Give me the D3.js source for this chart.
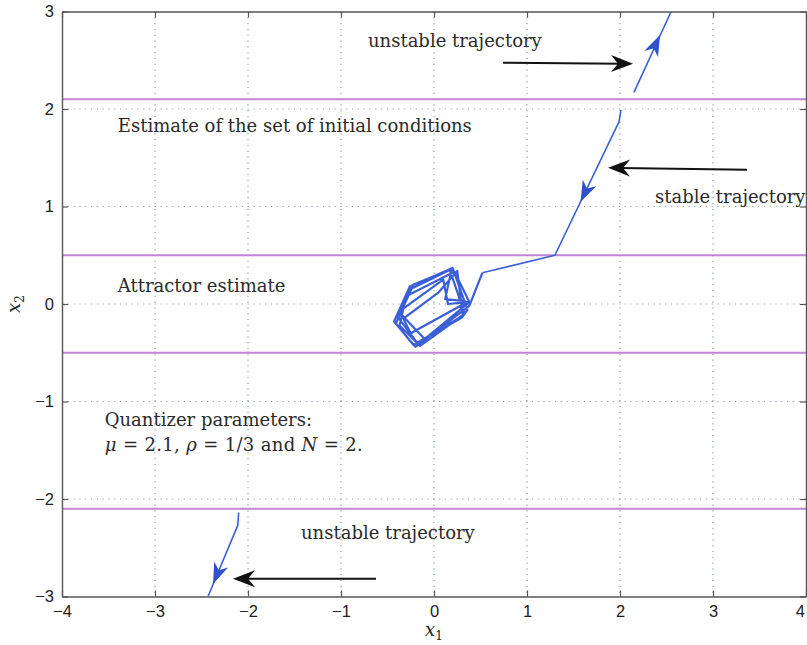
<!DOCTYPE html>
<html><head><meta charset="utf-8">
<script src="https://cdn.jsdelivr.net/npm/d3@7"></script>
<style>body{margin:0;background:#fff}</style>
</head><body><svg id="c" width="807" height="645"></svg>
<script>
// ---- data ----
const xTicks = [-4, -3, -2, -1, 0, 1, 2, 3, 4];
const yTicks = [-3, -2, -1, 0, 1, 2, 3];
const boundaryLevels = [2.1, 0.5, -0.5, -2.1];

const unstableUpX = [2.15, 2.55];
const unstableUpY = [2.17, 3.0];

// approach from the initial-condition set
const stableX = [2.01, 1.99, 1.30, 0.52];
const stableY = [1.99, 1.87, 0.50, 0.32];
// motion inside the attractor
const attractorX = [0.52, 0.38, -0.20, -0.43, -0.26, 0.20, 0.36, 0.30, -0.18, -0.40, -0.22, 0.17, 0.33, -0.15, -0.37, -0.30, 0.22, 0.38, -0.10, -0.38, 0.10, 0.15, 0.36, -0.25, -0.33, 0.05, 0.25, 0.31, -0.22, -0.41, -0.24, 0.19, 0.12, 0.34];
const attractorY = [0.32, -0.02, -0.44, -0.18, 0.18, 0.37, -0.06, -0.14, -0.40, -0.12, 0.20, 0.35, -0.10, -0.43, -0.22, 0.08, 0.33, 0.02, -0.36, -0.08, 0.25, 0.00, 0.02, -0.30, -0.15, 0.12, 0.34, -0.12, -0.42, -0.20, 0.16, 0.36, 0.05, 0.03];

const unstableLowX = [-2.10, -2.11, -2.43];
const unstableLowY = [-2.14, -2.27, -3.0];

// arrowheads on trajectories (tip positions, data coords)
const headTipX = [2.43, 1.575, -2.376];
const headTipY = [2.76, 1.046, -2.872];

// black annotation arrows (tail -> tip)
const pointerTailX = [0.742, 3.366, -0.624];
const pointerTailY = [2.474, 1.377, -2.818];
const pointerTipX = [2.14, 1.871, -2.161];
const pointerTipY = [2.464, 1.397, -2.818];

// text notes
const noteText = ["unstable trajectory", "Estimate of the set of initial conditions", "stable trajectory", "Attractor estimate", "Quantizer parameters:", "unstable trajectory"];
const noteX = [-0.71, -3.40, 2.376, -3.40, -3.54, -1.43];
const noteY = [2.64, 1.764, 1.036, 0.123, -1.251, -2.41];
const mathX = -3.54, mathY = -1.508;

// ---- chart ----
const svg = d3.select('#c');
const x = d3.scaleLinear().domain([-4, 4]).range([62, 806]);
const y = d3.scaleLinear().domain([-3, 3]).range([596.5, 11.5]);
svg.append('rect').attr('width', 807).attr('height', 645).attr('fill', '#fff');

svg.append('defs').append('clipPath').attr('id', 'clip')
  .append('rect').attr('x', x(-4)).attr('y', y(3)).attr('width', x(4) - x(-4)).attr('height', y(-3) - y(3));

// grid
const grid = svg.append('g').attr('stroke', '#8d9db2').attr('stroke-width', 1.2).attr('stroke-dasharray', '1.2,4.6');
grid.selectAll('.vg').data(xTicks.slice(1, -1)).join('line')
  .attr('x1', d => x(d)).attr('x2', d => x(d)).attr('y1', y(3)).attr('y2', y(-3));
grid.selectAll('.hg').data(yTicks.slice(1, -1)).join('line')
  .attr('y1', d => y(d)).attr('y2', d => y(d)).attr('x1', x(-4)).attr('x2', x(4));

// boundary lines
svg.append('g').selectAll('line').data(boundaryLevels).join('line')
  .attr('x1', x(-4)).attr('x2', x(4)).attr('y1', d => y(d)).attr('y2', d => y(d))
  .attr('stroke', '#c185d6').attr('stroke-width', 2);

// trajectories
const plot = svg.append('g').attr('clip-path', 'url(#clip)');
const line = d3.line().x(d => x(d[0])).y(d => y(d[1]));
const trajs = [
  d3.zip(unstableUpX, unstableUpY),
  d3.zip(stableX, stableY),
  d3.zip(unstableLowX, unstableLowY),
  d3.zip(attractorX, attractorY)
];
plot.selectAll('path.traj').data(trajs).join('path').attr('class', 'traj')
  .attr('d', line).attr('fill', 'none').attr('stroke', '#3b60d6')
  .attr('stroke-width', (d, i) => i === 3 ? 2.2 : 1.6).attr('stroke-linejoin', 'round');

function headPath(tx, ty, ux, uy, L, W, N) {
  const nx = -uy, ny = ux;
  const bx = tx - L * ux, by = ty - L * uy;
  return `M${tx},${ty}L${bx + W * nx},${by + W * ny}L${tx - (L - N) * ux},${ty - (L - N) * uy}L${bx - W * nx},${by - W * ny}Z`;
}
// blue arrowheads: direction from nearest segment of each trajectory
headTipX.forEach((hx, i) => {
  const pts = trajs[i].map(p => [x(p[0]), y(p[1])]);
  const tx = x(hx), ty = y(headTipY[i]);
  let best = null, bd = Infinity;
  for (let k = 0; k < pts.length - 1; k++) {
    const [ax, ay] = pts[k], [bx, by] = pts[k + 1];
    const dx = bx - ax, dy = by - ay, l2 = dx * dx + dy * dy;
    let t = ((tx - ax) * dx + (ty - ay) * dy) / l2; t = Math.max(0, Math.min(1, t));
    const d = Math.hypot(ax + t * dx - tx, ay + t * dy - ty);
    if (d < bd) { bd = d; best = [dx, dy]; }
  }
  const len = Math.hypot(best[0], best[1]);
  svg.append('path').attr('d', headPath(tx, ty, best[0] / len, best[1] / len, 21, 7.5, 6))
    .attr('fill', '#2f52c8');
});

// black pointer arrows
pointerTailX.forEach((tx0, i) => {
  const x0 = x(tx0), y0 = y(pointerTailY[i]), x1 = x(pointerTipX[i]), y1 = y(pointerTipY[i]);
  const l = Math.hypot(x1 - x0, y1 - y0), ux = (x1 - x0) / l, uy = (y1 - y0) / l;
  svg.append('line').attr('x1', x0).attr('y1', y0).attr('x2', x1 - 12 * ux).attr('y2', y1 - 12 * uy)
    .attr('stroke', '#111').attr('stroke-width', 2);
  svg.append('path').attr('d', headPath(x1, y1, ux, uy, 22, 8.5, 7)).attr('fill', '#111');
});

// axes
const tickFmt = d3.format('d');
function styleAxis(g) {
  g.select('.domain').attr('stroke', '#555').attr('stroke-width', 1.4);
  g.selectAll('.tick line').attr('stroke', '#555').attr('stroke-width', 1.2);
  g.selectAll('.tick text').attr('fill', '#222').style('font-family', '"Liberation Sans", Arial, sans-serif').style('font-size', '16.5px');
}
const xAxisG = svg.append('g').attr('transform', `translate(0,${y(-3)})`)
  .call(d3.axisBottom(x).tickValues(xTicks).tickSize(-6).tickSizeOuter(0).tickPadding(9).tickFormat(tickFmt)).call(styleAxis);
xAxisG.selectAll('.tick text').filter(d => d === xTicks[xTicks.length - 1]).attr('text-anchor', 'end').attr('dx', -1.5);
svg.append('g').attr('transform', `translate(${x(-4)},0)`)
  .call(d3.axisLeft(y).tickValues(yTicks).tickSize(-6).tickSizeOuter(0).tickPadding(8).tickFormat(tickFmt)).call(styleAxis);
svg.append('g').attr('transform', `translate(0,${y(3)})`)
  .call(d3.axisTop(x).tickValues(xTicks).tickSize(-6).tickSizeOuter(0).tickFormat('')).call(styleAxis);
svg.append('g').attr('transform', `translate(${x(4)},0)`)
  .call(d3.axisRight(y).tickValues(yTicks).tickSize(-6).tickSizeOuter(0).tickFormat('')).call(styleAxis);

// axis labels
const serif = '"DejaVu Serif", "Liberation Serif", serif';
const xl = svg.append('text').attr('x', x(0)).attr('y', 636).attr('text-anchor', 'middle')
  .style('font-family', serif).style('font-size', '18px').attr('fill', '#222');
xl.append('tspan').style('font-style', 'italic').text('x');
xl.append('tspan').attr('dy', 4).style('font-size', '12px').text('1');
const yl = svg.append('text').attr('transform', `translate(20,${y(0)}) rotate(-90)`).attr('text-anchor', 'middle')
  .style('font-family', serif).style('font-size', '18px').attr('fill', '#222');
yl.append('tspan').style('font-style', 'italic').text('x');
yl.append('tspan').attr('dy', 4).style('font-size', '12px').text('2');

// notes
svg.append('g').selectAll('text').data(noteText).join('text')
  .attr('x', (d, i) => x(noteX[i])).attr('y', (d, i) => y(noteY[i]))
  .style('font-family', serif).style('font-size', '18px').attr('fill', '#2a2a2a').text(d => d);

const mt = svg.append('text').attr('x', x(mathX)).attr('y', y(mathY))
  .style('font-family', serif).style('font-size', '18px').attr('fill', '#2a2a2a');
[['μ', 1], [' = 2.1, ', 0], ['ρ', 1], [' = 1/3 and ', 0], ['N', 1], [' = 2.', 0]].forEach(([t, it]) => {
  mt.append('tspan').style('font-style', it ? 'italic' : 'normal').attr('xml:space', 'preserve').text(t);
});
mt.attr('textLength', 258).attr('lengthAdjust', 'spacing');
</script></body></html>
